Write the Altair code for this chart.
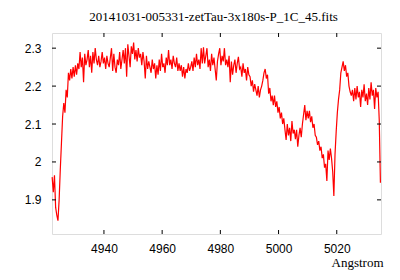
import altair as alt
import pandas as pd

# Sampling of the spectrum (Angstrom)
wl_start = 4922.2
wl_step = 0.4

# Flux values, 10 samples (4 A) per row
seg_rise = [
    1.96, 1.92, 1.965, 1.88, 1.86, 1.845, 1.90, 1.98, 2.05, 2.12,
    2.155, 2.13, 2.19, 2.17, 2.235, 2.215, 2.245, 2.22, 2.25, 2.225,
]
seg_plateau_a = [
    2.255, 2.23, 2.26, 2.245, 2.29, 2.25, 2.275, 2.21, 2.285, 2.255,
    2.27, 2.295, 2.25, 2.28, 2.235, 2.29, 2.26, 2.30, 2.27, 2.255,
    2.28, 2.25, 2.265, 2.29, 2.26, 2.275, 2.245, 2.28, 2.26, 2.25,
    2.275, 2.30, 2.24, 2.285, 2.25, 2.235, 2.27, 2.255, 2.29, 2.245,
    2.27, 2.295, 2.26, 2.30, 2.225, 2.31, 2.28, 2.25, 2.305, 2.285,
]
seg_plateau_b = [
    2.315, 2.27, 2.295, 2.265, 2.30, 2.275, 2.285, 2.255, 2.29, 2.265,
    2.22, 2.28, 2.245, 2.265, 2.25, 2.235, 2.27, 2.245, 2.26, 2.22,
    2.255, 2.23, 2.27, 2.24, 2.285, 2.25, 2.26, 2.235, 2.275, 2.255,
    2.295, 2.255, 2.27, 2.245, 2.28, 2.26, 2.25, 2.275, 2.24, 2.26,
    2.24, 2.255, 2.225, 2.25, 2.22, 2.245, 2.235, 2.26, 2.24, 2.25,
]
seg_plateau_c = [
    2.265, 2.24, 2.275, 2.25, 2.285, 2.255, 2.27, 2.245, 2.30, 2.26,
    2.302, 2.26, 2.28, 2.30, 2.25, 2.27, 2.24, 2.285, 2.255, 2.275,
    2.245, 2.215, 2.265, 2.285, 2.30, 2.255, 2.28, 2.265, 2.30, 2.255,
    2.27, 2.25, 2.28, 2.21, 2.265, 2.23, 2.255, 2.27, 2.235, 2.26,
    2.277, 2.245, 2.25, 2.225, 2.26, 2.235, 2.245, 2.215, 2.25, 2.23,
]
seg_decline = [
    2.225, 2.20, 2.215, 2.185, 2.205, 2.19, 2.175, 2.20, 2.17, 2.19,
    2.20, 2.215, 2.235, 2.245, 2.22, 2.23, 2.18, 2.195, 2.16, 2.175,
    2.15, 2.175, 2.145, 2.16, 2.13, 2.145, 2.115, 2.13, 2.10, 2.115,
    2.085, 2.058, 2.10, 2.07, 2.09, 2.055, 2.108, 2.075, 2.085, 2.06,
    2.085, 2.04, 2.07, 2.09, 2.065, 2.10, 2.125, 2.15, 2.11, 2.135,
    2.115, 2.135, 2.105, 2.12, 2.09, 2.10, 2.07, 2.065, 2.045, 2.055,
]
seg_dip = [
    2.03, 2.04, 2.01, 2.02, 1.985, 1.995, 1.95, 2.03, 2.005, 2.035,
    2.01, 1.975, 1.91, 2.02, 2.08, 2.13, 2.165, 2.19, 2.235, 2.25,
    2.265, 2.24, 2.255, 2.225, 2.235, 2.20, 2.185, 2.175, 2.19, 2.16,
]
seg_red = [
    2.195, 2.165, 2.20, 2.17, 2.185, 2.145, 2.19, 2.17, 2.205, 2.16,
    2.18, 2.15, 2.195, 2.165, 2.21, 2.175, 2.19, 2.14, 2.195, 2.17,
    2.185, 2.11, 1.945,
]

x_ticks = [4940, 4960, 4980, 5000, 5020]
y_ticks = [1.9, 2.0, 2.1, 2.2, 2.3]
title_text = "20141031-005331-zetTau-3x180s-P_1C_45.fits"

flux = seg_rise + seg_plateau_a + seg_plateau_b + seg_plateau_c + seg_decline + seg_dip + seg_red
wavelength = [round(wl_start + wl_step * i, 1) for i in range(len(flux))]
df = pd.DataFrame({"wl": wavelength, "flux": flux})
dfx = pd.DataFrame({"wl": x_ticks})
dfy = pd.DataFrame({"flux": y_ticks})

W, H = 329, 201
TK = 4
xscale = alt.Scale(domain=[4922.15, 5035.2], nice=False, zero=False)
yscale = alt.Scale(domain=[1.81, 2.34], nice=False, zero=False)

xaxis = alt.Axis(values=x_ticks, format="d", title="Angstrom",
                 domain=False, ticks=False, grid=False,
                 labelFont="Liberation Sans", labelFontSize=12,
                 labelColor="black", labelPadding=9,
                 titleFont="Liberation Serif", titleFontSize=13,
                 titleFontWeight="normal", titleColor="black",
                 titleAlign="right", titleBaseline="alphabetic",
                 titleX=W + 2, titleY=32)
yaxis = alt.Axis(values=y_ticks, format="~g", title=None,
                 domain=False, ticks=False, grid=False,
                 labelFont="Liberation Sans", labelFontSize=12,
                 labelColor="black", labelPadding=11)

line = alt.Chart(df).mark_line(color="#ff0000", strokeWidth=1.2).encode(
    x=alt.X("wl:Q", scale=xscale, axis=xaxis),
    y=alt.Y("flux:Q", scale=yscale, axis=yaxis),
)

rule_kw = dict(color="black", strokeWidth=1)
bot = alt.Chart(dfx).mark_rule(**rule_kw).encode(
    x=alt.X("wl:Q", scale=xscale, axis=xaxis), y=alt.value(H), y2=alt.value(H - TK))
top = alt.Chart(dfx).mark_rule(**rule_kw).encode(
    x=alt.X("wl:Q", scale=xscale, axis=xaxis), y=alt.value(0), y2=alt.value(TK))
left = alt.Chart(dfy).mark_rule(**rule_kw).encode(
    y=alt.Y("flux:Q", scale=yscale, axis=yaxis), x=alt.value(0), x2=alt.value(TK))
right = alt.Chart(dfy).mark_rule(**rule_kw).encode(
    y=alt.Y("flux:Q", scale=yscale, axis=yaxis), x=alt.value(W), x2=alt.value(W - TK))

chart = alt.layer(line, bot, top, left, right).properties(
    width=W, height=H,
    title=alt.TitleParams(title_text, font="Liberation Serif", fontSize=13,
                          fontWeight="normal", color="black", anchor="middle",
                          frame="group", offset=9, dx=-3),
    autosize=alt.AutoSizeParams(type="none"),
    padding={"left": 44, "top": 25, "right": 10, "bottom": 42},
).configure_view(stroke="black", strokeWidth=1).configure(background="white")

chart.save("out.html", embed_options={"renderer": "svg", "actions": False})
